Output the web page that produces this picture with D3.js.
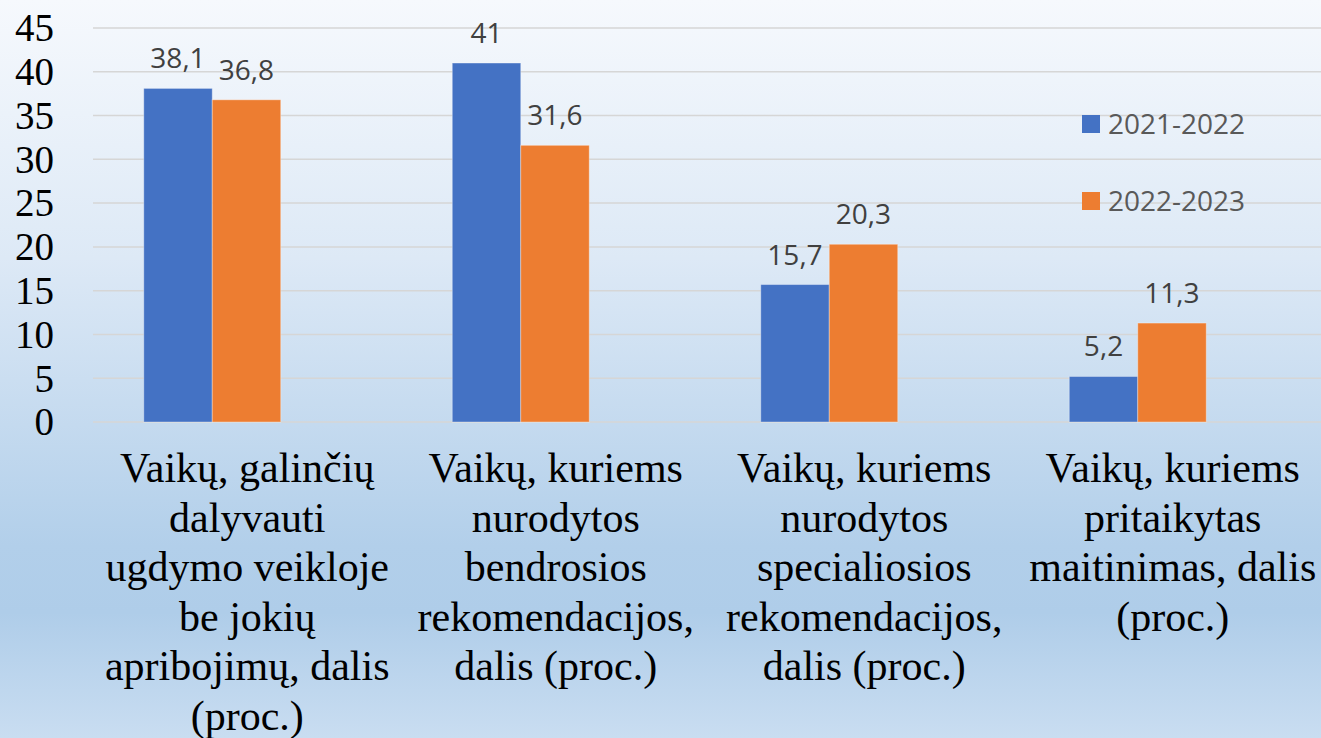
<!DOCTYPE html>
<html>
<head>
<meta charset="utf-8">
<script src="https://cdn.jsdelivr.net/npm/d3@7"></script>
<style>
  html, body { margin: 0; padding: 0; overflow: hidden; }
  svg { display: block; }
</style>
</head>
<body>
<svg id="chart" width="1321" height="738"></svg>
<script>
const categories = [
  "Vaikų, galinčių\ndalyvauti\nugdymo veikloje\nbe jokių\napribojimų, dalis\n(proc.)",
  "Vaikų, kuriems\nnurodytos\nbendrosios\nrekomendacijos,\ndalis (proc.)",
  "Vaikų, kuriems\nnurodytos\nspecialiosios\nrekomendacijos,\ndalis (proc.)",
  "Vaikų, kuriems\npritaikytas\nmaitinimas, dalis\n(proc.)"
];
const seriesNames = ["2021-2022", "2022-2023"];
const values2021 = [38.1, 41, 15.7, 5.2];
const values2022 = [36.8, 31.6, 20.3, 11.3];
const yTicks = [0, 5, 10, 15, 20, 25, 30, 35, 40, 45];
const colors = ["#4472c4", "#ed7d31"];

const SERIF = "Liberation Serif";
const SANS = "Open Sans";
const W = 1321, H = 738;
const svg = d3.select("#chart");

// background gradient
const defs = svg.append("defs");
const grad = defs.append("linearGradient").attr("id", "bg")
  .attr("x1", 0).attr("y1", 0).attr("x2", 0).attr("y2", 1);
[[0, "#f6f9fd"], [0.35, "#dde9f6"], [0.74, "#b2cfea"], [0.83, "#afcde9"], [1, "#c9ddf1"]]
  .forEach(([o, c]) => grad.append("stop").attr("offset", o).attr("stop-color", c));
svg.append("rect").attr("width", W).attr("height", H).attr("fill", "url(#bg)");

const y = d3.scaleLinear().domain([0, 45]).range([422, 28]);
const x0 = d3.scaleBand().domain(d3.range(categories.length))
  .range([58, 1292]).paddingInner(0.556).paddingOuter(0.278);
const x1 = d3.scaleBand().domain(d3.range(seriesNames.length))
  .range([0, x0.bandwidth()]);

// gridlines
svg.append("g").selectAll("line").data(yTicks).join("line")
  .attr("x1", 93).attr("x2", W)
  .attr("y1", d => y(d)).attr("y2", d => y(d))
  .attr("stroke", "#d6d6d6").attr("stroke-width", 1.5);

// y axis labels
const yAxis = d3.axisLeft(y).tickValues(yTicks).tickSize(0).tickPadding(0);
const gy = svg.append("g").attr("transform", "translate(54,0)").call(yAxis);
gy.select(".domain").remove();
gy.selectAll("text")
  .style("font-family", SERIF)
  .style("font-size", "39px").attr("fill", "#000").attr("dy", "0.33em");

// bars
const seriesVals = [values2021, values2022];
const groups = svg.append("g").selectAll("g").data(categories.map((c, i) => i)).join("g")
  .attr("transform", i => `translate(${x0(i)},0)`);
groups.selectAll("rect").data(i => seriesVals.map((vals, s) => ({ s, v: vals[i] }))).join("rect")
  .attr("x", d => x1(d.s)).attr("width", x1.bandwidth())
  .attr("y", d => y(d.v)).attr("height", d => y(0) - y(d.v))
  .attr("fill", d => colors[d.s])
  .attr("stroke", "rgba(255,255,255,0.35)").attr("stroke-width", 1);

// data labels
const fmt = v => String(v).replace(".", ",");
groups.selectAll("text").data(i => seriesVals.map((vals, s) => ({ s, v: vals[i] }))).join("text")
  .attr("x", d => x1(d.s) + x1.bandwidth() / 2)
  .attr("y", d => y(d.v) - 20)
  .attr("text-anchor", "middle")
  .style("font-family", SANS)
  .style("font-size", "28px")
  .attr("fill", "#404040")
  .text(d => fmt(d.v));

// category labels
const catG = svg.append("g");
categories.forEach((c, i) => {
  const cx = x0(i) + x0.bandwidth() / 2 + 35;
  const t = catG.append("text")
    .attr("text-anchor", "middle")
    .style("font-family", SERIF)
    .style("font-size", "42px").attr("fill", "#000");
  c.split("\n").forEach((line, k) => {
    t.append("tspan").attr("x", cx).attr("y", 482 + k * 49.6)
      .style("font-family", SERIF).text(line);
  });
});

// legend
const leg = svg.append("g").selectAll("g").data(seriesNames).join("g")
  .attr("transform", (d, i) => `translate(1082,${115 + i * 77})`);
leg.append("rect").attr("width", 18).attr("height", 18).attr("fill", (d, i) => colors[i]);
leg.append("text").attr("x", 26).attr("y", 9).attr("dy", "0.36em")
  .style("font-family", SANS)
  .style("font-size", "28px")
  .attr("fill", "#595959").text(d => d);
</script>
</body>
</html>
